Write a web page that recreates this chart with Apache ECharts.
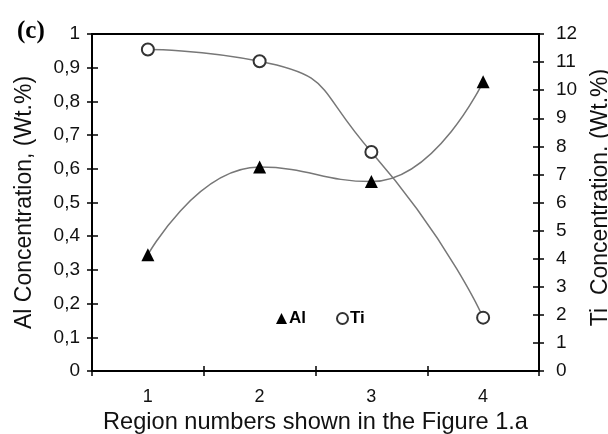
<!DOCTYPE html>
<html>
<head>
<meta charset="utf-8">
<script src="https://cdn.jsdelivr.net/npm/echarts@6/dist/echarts.min.js"></script>
<style>html,body{margin:0;padding:0;background:#fff;}#c{width:608px;height:434px;}</style>
</head>
<body>
<div id="c"></div>
<script>
var categories = ['1', '2', '3', '4'];
var alValues = [0.345, 0.605, 0.562, 0.858];
var tiValues = [11.45, 11.03, 7.8, 1.9];
var leftTicks = { min: 0, max: 1, interval: 0.1 };
var rightTicks = { min: 0, max: 12, interval: 1 };

var FONT = '"Liberation Sans", Arial, sans-serif';
var chart = echarts.init(document.getElementById('c'));
var axisLine = { show: true, lineStyle: { color: '#000', width: 2 } };
var tickStyle = { color: '#000', width: 1.5 };
chart.setOption({
  animation: false,
  backgroundColor: '#fff',
  title: {
    text: '(c)', left: 12, top: 14,
    textStyle: { fontFamily: '"Liberation Serif", "Times New Roman", serif', fontWeight: 'bold', fontSize: 25, color: '#000' }
  },
  grid: { left: 92, right: 69, top: 34, bottom: 63, outerBoundsMode: 'none', containLabel: false, show: true, borderColor: '#000', borderWidth: 2, backgroundColor: 'transparent' },
  legend: {
    left: 271, top: 305, itemGap: 30, itemWidth: 11, itemHeight: 11,
    textStyle: { fontFamily: FONT, fontSize: 17, fontWeight: 'bold', color: '#000', padding: [0, 0, 0, -3] },
    data: [{ name: 'Al', icon: 'triangle' }, { name: 'Ti', icon: 'emptyCircle' }]
  },
  xAxis: [{
    type: 'category', data: categories, boundaryGap: true,
    name: 'Region numbers shown in the Figure 1.a', nameLocation: 'middle', nameGap: 33,
    nameTextStyle: { fontFamily: FONT, fontSize: 23.6, color: '#111' },
    axisLine: axisLine,
    axisTick: { show: true, length: 5, lineStyle: tickStyle },
    axisLabel: { fontFamily: FONT, fontSize: 18, color: '#111', margin: 17 },
    splitLine: { show: false }
  }, {
    type: 'category', data: categories, boundaryGap: true, position: 'bottom',
    axisLine: { show: false },
    axisTick: { show: true, inside: true, length: 5, lineStyle: tickStyle },
    axisLabel: { show: false }, splitLine: { show: false }
  }],
  yAxis: [{
    type: 'value', min: leftTicks.min, max: leftTicks.max, interval: leftTicks.interval, position: 'left',
    name: 'Al Concentration, (Wt.%)', nameLocation: 'middle', nameGap: 56, nameRotate: 90,
    nameTextStyle: { fontFamily: FONT, fontSize: 23, color: '#111' },
    axisLine: axisLine,
    axisTick: { show: true, length: 5, lineStyle: tickStyle },
    axisLabel: {
      fontFamily: FONT, fontSize: 19, color: '#111', margin: 12,
      formatter: function (v) { return String(Math.round(v * 10) / 10).replace('.', ','); }
    },
    splitLine: { show: false }
  }, {
    type: 'value', min: rightTicks.min, max: rightTicks.max, interval: rightTicks.interval, position: 'right',
    name: 'Ti  Concentration. (Wt.%)', nameLocation: 'middle', nameGap: 50, nameRotate: 90,
    nameTextStyle: { fontFamily: FONT, fontSize: 23, color: '#111', padding: [0, 0, 0, 10] },
    axisLine: axisLine,
    axisTick: { show: true, length: 5, lineStyle: tickStyle },
    axisLabel: { fontFamily: FONT, fontSize: 19, color: '#111', margin: 17 },
    splitLine: { show: false }
  }, {
    type: 'value', min: leftTicks.min, max: leftTicks.max, interval: leftTicks.interval, position: 'left',
    axisLine: { show: false }, axisTick: { show: true, inside: true, length: 6, lineStyle: tickStyle },
    axisLabel: { show: false }, splitLine: { show: false }
  }, {
    type: 'value', min: rightTicks.min, max: rightTicks.max, interval: rightTicks.interval, position: 'right',
    axisLine: { show: false }, axisTick: { show: true, inside: true, length: 6, lineStyle: tickStyle },
    axisLabel: { show: false }, splitLine: { show: false }
  }],
  series: [{
    name: 'Al', type: 'line', data: alValues, yAxisIndex: 0, smooth: 0.5,
    symbol: 'triangle', symbolSize: 13,
    itemStyle: { color: '#000' },
    lineStyle: { color: '#777', width: 1.5 }
  }, {
    name: 'Ti', type: 'line', data: tiValues, yAxisIndex: 1, smooth: 0.6,
    symbol: 'emptyCircle', symbolSize: 12,
    itemStyle: { color: '#333', borderColor: '#333', borderWidth: 1.6 },
    lineStyle: { color: '#777', width: 1.5 }
  }]
});
</script>
</body>
</html>
